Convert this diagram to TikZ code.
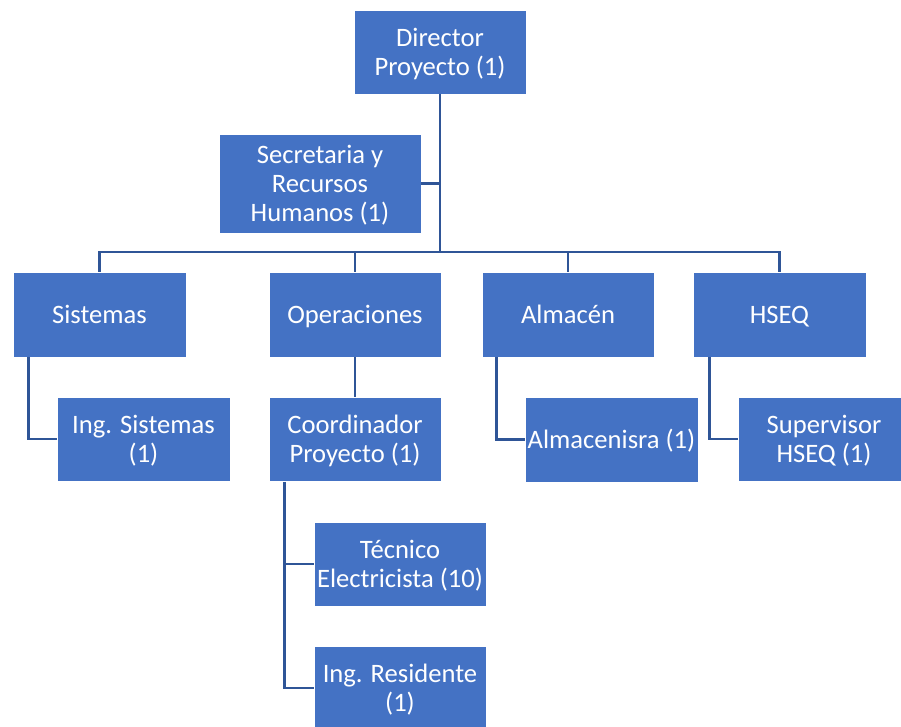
\documentclass[tikz,border=0pt]{standalone}
\usepackage{fontspec}
\setmainfont{Carlito}
\definecolor{boxblue}{HTML}{4472C4}
\definecolor{lineblue}{HTML}{2F5597}
\newcommand{\orgstrut}{\rule[-8.4pt]{0pt}{34.4pt}}
\newcommand{\orgfont}{\fontsize{26.6}{29}\selectfont\setlength{\lineskiplimit}{-100pt}\setlength{\lineskip}{0pt}}
\begin{document}
\begin{tikzpicture}[x=1pt,y=-1pt,
  orgbox/.style={rectangle, fill=boxblue, draw=white, line width=0.8pt,
    inner sep=0pt, align=center, text=white, font=\orgfont},
  conn/.style={draw=lineblue, line width=2.3pt}]
\useasboundingbox (0,0) rectangle (901,726);
\node[orgbox, minimum width=172, minimum height=84] (dir) at (440,52) {\orgstrut Director\\\orgstrut Proyecto (1)};
\node[orgbox, minimum width=202, minimum height=99] (sec) at (320,183.5) {\orgstrut Secretaria y\\\orgstrut Recursos\\\orgstrut Humanos (1)};
\node[orgbox, minimum width=173, minimum height=85] (sis) at (99.5,314.5) {\orgstrut Sistemas};
\node[orgbox, minimum width=172, minimum height=85] (ope) at (355,314.5) {\orgstrut Operaciones};
\node[orgbox, minimum width=172, minimum height=85] (alm) at (568,314.5) {\orgstrut Almacén};
\node[orgbox, minimum width=173, minimum height=85] (hseq) at (779.5,314.5) {\orgstrut HSEQ};
\node[orgbox, minimum width=173, minimum height=84] (ingsis) at (143.5,439) {\orgstrut Ing. Sistemas\\\orgstrut (1)};
\node[orgbox, minimum width=172, minimum height=84] (coord) at (355,439.5) {\orgstrut Coordinador\\\orgstrut Proyecto (1)};
\node[orgbox, minimum width=173, minimum height=85] (almc) at (611.5,439.5) {\orgstrut Almacenisra (1)};
\node[orgbox, minimum width=172, minimum height=84] (sup) at (824,439) {\orgstrut Supervisor\\\orgstrut HSEQ (1)};
\node[orgbox, minimum width=172, minimum height=84] (tec) at (400,564) {\orgstrut Técnico\\\orgstrut Electricista (10)};
\node[orgbox, minimum width=172, minimum height=84] (res) at (400,688) {\orgstrut Ing. Residente\\\orgstrut (1)};
\coordinate (bus) at (440,252);
\draw[conn] (dir.south) -- (bus);
\draw[conn] (sec.east) -- (sec.east -| bus);
\draw[conn] (sis.north) |- (bus) -| (hseq.north);
\draw[conn] (ope.north) -- (ope.north |- bus);
\draw[conn] (alm.north) -- (alm.north |- bus);
\draw[conn] (ope.south) -- (coord.north);
\draw[conn] ([xshift=16pt]sis.south west) |- (ingsis.west);
\draw[conn] ([xshift=15pt]alm.south west) |- (almc.west);
\draw[conn] ([xshift=17pt]hseq.south west) |- (sup.west);
\draw[conn] ([xshift=16pt]coord.south west) |- (res.west);
\draw[conn] ([xshift=16pt]coord.south west |- tec.west) -- (tec.west);
\end{tikzpicture}
\end{document}
